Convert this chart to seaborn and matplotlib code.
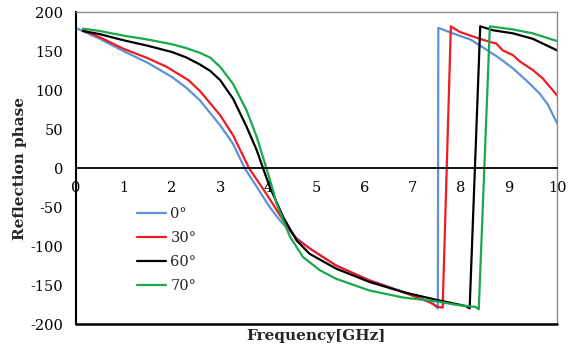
import matplotlib
matplotlib.use("Agg")
import matplotlib.pyplot as plt
import seaborn as sns
import pandas as pd

# ---- data ----
labels = ["0°", "30°", "60°", "70°"]
colors = ["#5b93d8", "#ee1c24", "#000000", "#1aa84b"]

x_0 = [0.0, 0.5, 1.0, 1.5, 2.0, 2.3, 2.58, 3.0, 3.27, 3.51, 3.76, 4.03, 4.24, 4.59, 4.86, 5.41, 6.1, 6.8, 7.2, 7.42, 7.49, 7.52,
       7.53, 7.83, 8.2, 8.53, 8.8, 9.08, 9.4, 9.63, 9.8, 10.0]
y_0 = [180, 166, 150, 135, 117, 103, 87, 55, 31, 0, -24, -50, -67, -90, -103, -125, -144, -159, -168, -174, -178, -180,
       180, 173, 165, 152, 141, 128, 110, 96, 82, 57]

x_30 = [0.15, 0.5, 1.0, 1.5, 1.89, 2.34, 2.58, 3.0, 3.27, 3.6, 3.96, 4.31, 4.59, 4.86, 5.41, 6.1, 6.8, 7.35, 7.52, 7.62,
        7.79, 7.97, 8.2, 8.39, 8.6, 8.73, 8.87, 9.08, 9.22, 9.49, 9.7, 10.0]
y_30 = [177, 168, 153, 141, 130, 113, 99, 68, 42, 0, -33, -67, -91, -103, -125, -144, -159, -172, -178, -179,
        182, 175, 170, 166, 162, 160, 151, 145, 137, 126, 115, 93]

x_60 = [0.15, 0.5, 1.0, 1.5, 2.0, 2.3, 2.58, 2.79, 3.0, 3.27, 3.55, 3.76, 3.89, 4.03, 4.31, 4.59, 4.86, 5.41, 6.1, 6.8, 7.49, 7.8, 8.1, 8.18,
        8.4, 8.66, 9.08, 9.49, 10.0]
y_60 = [176, 172, 164, 157, 149, 142, 133, 125, 113, 89, 53, 23, 0, -24, -63, -93, -110, -129, -146, -159, -169, -173, -177, -180,
        182, 177, 173, 166, 151]

x_70 = [0.15, 0.5, 1.0, 1.5, 2.0, 2.3, 2.58, 2.79, 3.0, 3.27, 3.55, 3.76, 3.96, 4.1, 4.17, 4.31, 4.45, 4.72, 5.07, 5.41, 6.1, 6.8, 7.49, 7.97, 8.3, 8.37,
        8.6, 9.08, 9.49, 10.0]
y_70 = [179, 176, 170, 165, 159, 154, 148, 142, 130, 108, 74, 40, 0, -29, -45, -67, -88, -114, -131, -142, -157, -166, -171, -176, -178, -181,
        182, 178, 173, 163]

x_ticks = [0, 1, 2, 3, 4, 5, 6, 7, 8, 9, 10]
y_ticks = [-200, -150, -100, -50, 0, 50, 100, 150, 200]

frames = []
for lab, xs, ys in zip(labels, [x_0, x_30, x_60, x_70], [y_0, y_30, y_60, y_70]):
    frames.append(pd.DataFrame({"freq": xs, "phase": ys, "angle": lab}))
df = pd.concat(frames, ignore_index=True)

sns.set_style("white")
plt.rcParams["font.family"] = ["DejaVu Serif", "DejaVu Sans"]
plt.rcParams["axes.unicode_minus"] = False

fig = plt.figure(figsize=(5.73, 3.52), dpi=100)
ax = fig.add_axes([0.132, 0.0795, 0.8406, 0.8856])

for lab, col in zip(labels, colors):
    sub = df[df["angle"] == lab]
    sns.lineplot(data=sub, x="freq", y="phase", color=col, sort=False,
                 estimator=None, linewidth=1.6, label=lab, ax=ax)

ax.set_xlim(0, 10)
ax.set_ylim(-200, 200)
ax.set_xticks(x_ticks)
ax.set_yticks(y_ticks)
ax.set_xticklabels([str(t) for t in x_ticks])
ax.set_yticklabels([str(t) for t in y_ticks])

ax.spines["bottom"].set_position(("data", 0))
ax.spines["bottom"].set_color("black")
ax.spines["bottom"].set_linewidth(1.3)
ax.spines["left"].set_color("black")
ax.spines["left"].set_linewidth(1.5)
for s in ["top", "right"]:
    ax.spines[s].set_color("#8c8c8c")
    ax.spines[s].set_linewidth(1.0)
ax.axhline(-200, color="black", linewidth=1.8, clip_on=False, zorder=5)

ax.tick_params(axis="x", direction="in", length=4, width=1.2, pad=9,
               labelsize=10.5, colors="black")
ax.tick_params(axis="y", direction="in", length=4, width=1.2, pad=9,
               labelsize=10.5, colors="black")

ax.set_xlabel("Frequency[GHz]", fontsize=11, fontweight="bold")
ax.set_ylabel("Reflection phase", fontsize=11, fontweight="bold")
ax.xaxis.set_label_coords(0.5, -0.016)
ax.yaxis.set_label_coords(-0.1, 0.5)

ax.legend(frameon=False, loc="upper left", bbox_to_anchor=(0.115, 0.395),
          fontsize=10.5, handlelength=2.0, handletextpad=0.3, labelspacing=0.69,
          borderaxespad=0)

fig.savefig("out.png", dpi=100)
